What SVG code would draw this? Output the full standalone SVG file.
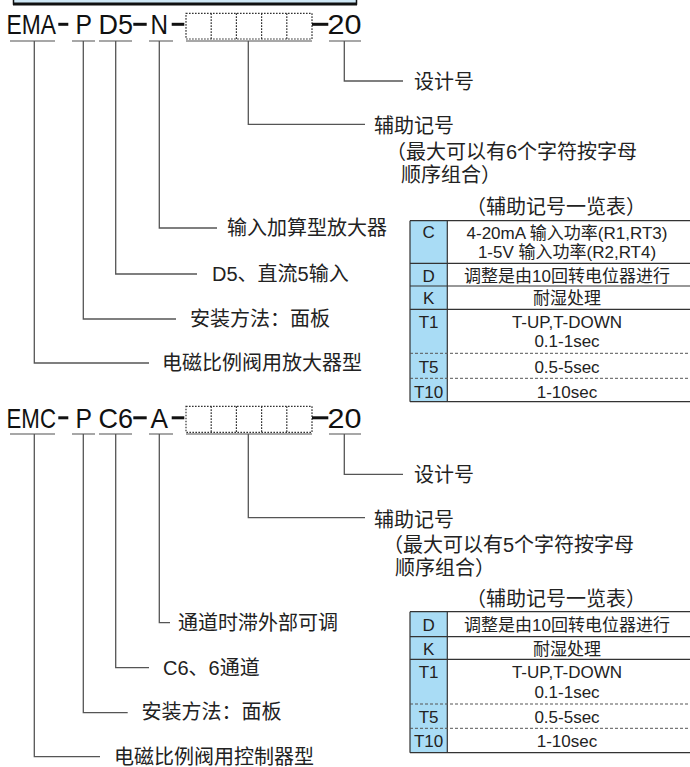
<svg xmlns="http://www.w3.org/2000/svg" width="690" height="767" viewBox="0 0 690 767">
<style>
.code{font-family:"Liberation Sans",Arial,sans-serif;font-size:28px;fill:#111}
.lbl{font-family:"Liberation Sans","Noto Sans CJK SC",sans-serif;font-size:20px;fill:#222}
.tt{font-family:"Liberation Sans","Noto Sans CJK SC",sans-serif;font-size:17px;fill:#222;text-anchor:middle}
.dash{fill:#111}
.ul{stroke:#8a8a8a;stroke-width:1.4;fill:none}
.box{stroke:#333;stroke-width:1.2;stroke-dasharray:1.6 1.4;fill:none}
.con{stroke:#555;stroke-width:1.3;fill:none}
.cell{fill:#a9dcf5}
.tl{stroke:#333;stroke-width:1.2;fill:none}
.td{stroke:#555;stroke-width:1;stroke-dasharray:3 2;fill:none}
</style>
<rect x="0" y="0" width="690" height="767" fill="#ffffff"/>
<g id="header">
<rect x="13.5" y="-10" width="343" height="14" fill="#cfe8f6" stroke="#111" stroke-width="1.5"/>
<rect x="13" y="2.5" width="344" height="3" fill="#111"/>
</g>

<g id="code-ema">
<text class="code" x="6.5" y="34" textLength="49.5" lengthAdjust="spacingAndGlyphs">EMA</text>
<rect class="dash" x="58.3" y="22.8" width="10" height="3"/>
<text class="code" x="75.5" y="34" textLength="16.5" lengthAdjust="spacingAndGlyphs">P</text>
<text class="code" x="98.5" y="34" textLength="34.5" lengthAdjust="spacingAndGlyphs">D5</text>
<rect class="dash" x="133.3" y="22.8" width="13.4" height="3"/>
<text class="code" x="150.5" y="34" textLength="17.5" lengthAdjust="spacingAndGlyphs">N</text>
<rect class="dash" x="171.7" y="22.8" width="12.6" height="3"/>
<rect class="box" x="186" y="13.3" width="126" height="25.7"/>
<path class="box" d="M211.2 13.3V39M236.4 13.3V39M261.6 13.3V39M286.8 13.3V39"/>
<rect class="dash" x="312" y="22.8" width="16.3" height="3"/>
<text class="code" x="327.5" y="34" textLength="34" lengthAdjust="spacingAndGlyphs">20</text>
<path class="ul" d="M10 41H55M72 41H95M99 41H132M149 41H173M186 41H312M329 41H361"/>
</g>

<g id="code-emc">
<text class="code" x="6.5" y="427.5" textLength="49.5" lengthAdjust="spacingAndGlyphs">EMC</text>
<rect class="dash" x="58.3" y="416.3" width="10" height="3"/>
<text class="code" x="75.5" y="427.5" textLength="16.5" lengthAdjust="spacingAndGlyphs">P</text>
<text class="code" x="98.5" y="427.5" textLength="34.5" lengthAdjust="spacingAndGlyphs">C6</text>
<rect class="dash" x="133.3" y="416.3" width="13.4" height="3"/>
<text class="code" x="150.5" y="427.5" textLength="17.5" lengthAdjust="spacingAndGlyphs">A</text>
<rect class="dash" x="171.7" y="416.3" width="12.6" height="3"/>
<rect class="box" x="186" y="406.3" width="126" height="26"/>
<path class="box" d="M211.2 406.3V432.3M236.4 406.3V432.3M261.6 406.3V432.3M286.8 406.3V432.3"/>
<rect class="dash" x="312" y="416.3" width="16.3" height="3"/>
<text class="code" x="327.5" y="427.5" textLength="34" lengthAdjust="spacingAndGlyphs">20</text>
<path class="ul" d="M10 434H55M72 434H95M99 434H132M149 434H173M186 434H312M329 434H361"/>
</g>

<g id="connectors">
<path class="con" d="M344.3 41V81H403"/>
<path class="con" d="M248.3 41V124.3H365"/>
<path class="con" d="M159.3 41V228H217"/>
<path class="con" d="M115.7 41V274H197"/>
<path class="con" d="M83.3 41V319H176"/>
<path class="con" d="M34.3 41V363H149"/>
<path class="con" d="M344.3 434V474.3H403"/>
<path class="con" d="M248.3 434V517.7H365"/>
<path class="con" d="M159.3 434V622.7H170"/>
<path class="con" d="M115.7 434V667.7H149"/>
<path class="con" d="M83.3 434V712.7H127.7"/>
<path class="con" d="M34.3 434V756.7H100"/>
</g>

<g id="label-design-1"><text class="lbl" x="414" y="89">设计号</text></g>
<g id="label-aux-1">
<text class="lbl" x="374" y="133">辅助记号</text>
<text class="lbl" x="386" y="159">（最大可以有6个字符按字母</text>
<text class="lbl" x="401" y="182">顺序组合）</text>
</g>
<g id="label-n"><text class="lbl" x="227" y="235">输入加算型放大器</text></g>
<g id="label-d5"><text class="lbl" x="212" y="281">D5、直流5输入</text></g>
<g id="label-mount-1"><text class="lbl" x="190" y="326">安装方法：面板</text></g>
<g id="label-ema"><text class="lbl" x="162" y="370">电磁比例阀用放大器型</text></g>

<g id="label-design-2"><text class="lbl" x="414" y="482">设计号</text></g>
<g id="label-aux-2">
<text class="lbl" x="374" y="527">辅助记号</text>
<text class="lbl" x="383" y="552">（最大可以有5个字符按字母</text>
<text class="lbl" x="395" y="575">顺序组合）</text>
</g>
<g id="label-a"><text class="lbl" x="178" y="629.7">通道时滞外部可调</text></g>
<g id="label-c6"><text class="lbl" x="163" y="674.5">C6、6通道</text></g>
<g id="label-mount-2"><text class="lbl" x="141.5" y="719">安装方法：面板</text></g>
<g id="label-emc"><text class="lbl" x="114" y="764">电磁比例阀用控制器型</text></g>

<g id="table-1">
<text class="lbl" x="466" y="214">（辅助记号一览表）</text>
<rect class="cell" x="410" y="220.7" width="37.3" height="181"/>
<path class="tl" d="M410 220.7H690M410 263.3H690M410 286H690M410 309.3H690M410 401.7H690M410 220.7V401.7M447.3 220.7V401.7"/>
<path class="td" d="M410 353.3H690M410 378.3H690"/>
<text class="tt" x="428.6" y="238">C</text>
<text class="tt" x="567" y="239">4-20mA 输入功率(R1,RT3)</text>
<text class="tt" x="567" y="258">1-5V 输入功率(R2,RT4)</text>
<text class="tt" x="428.6" y="281.5">D</text>
<text class="tt" x="567" y="281.5">调整是由10回转电位器进行</text>
<text class="tt" x="428.6" y="303.5">K</text>
<text class="tt" x="567" y="303.5">耐湿处理</text>
<text class="tt" x="428.6" y="328">T1</text>
<text class="tt" x="567" y="328">T-UP,T-DOWN</text>
<text class="tt" x="567" y="346.5">0.1-1sec</text>
<text class="tt" x="428.6" y="372.5">T5</text>
<text class="tt" x="567" y="372.5">0.5-5sec</text>
<text class="tt" x="428.6" y="397.5">T10</text>
<text class="tt" x="567" y="397.5">1-10sec</text>
</g>

<g id="table-2">
<text class="lbl" x="466" y="606">（辅助记号一览表）</text>
<rect class="cell" x="410" y="611.7" width="37.3" height="141"/>
<path class="tl" d="M410 611.7H690M410 636.7H690M410 659.3H690M410 752.7H690M410 611.7V752.7M447.3 611.7V752.7"/>
<path class="td" d="M410 704H690M410 728.3H690"/>
<text class="tt" x="428.6" y="631">D</text>
<text class="tt" x="567" y="631">调整是由10回转电位器进行</text>
<text class="tt" x="428.6" y="654.5">K</text>
<text class="tt" x="567" y="654.5">耐湿处理</text>
<text class="tt" x="428.6" y="678">T1</text>
<text class="tt" x="567" y="678">T-UP,T-DOWN</text>
<text class="tt" x="567" y="698">0.1-1sec</text>
<text class="tt" x="428.6" y="723">T5</text>
<text class="tt" x="567" y="723">0.5-5sec</text>
<text class="tt" x="428.6" y="747">T10</text>
<text class="tt" x="567" y="747">1-10sec</text>
</g>
</svg>
